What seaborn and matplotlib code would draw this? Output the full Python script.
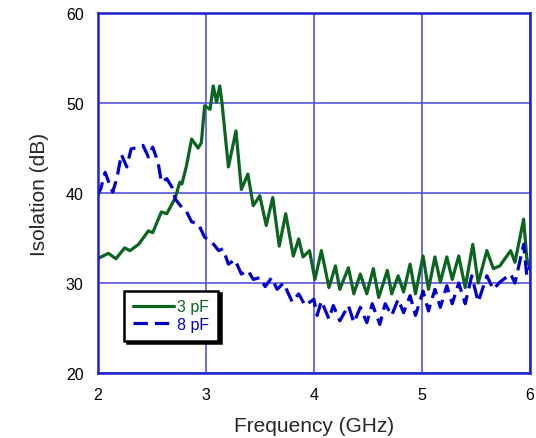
import matplotlib
matplotlib.use("Agg")
import matplotlib.pyplot as plt
import seaborn as sns
import pandas as pd

# values
freq_3pf = [2.00, 2.10, 2.17, 2.25, 2.30, 2.38, 2.47, 2.51, 2.59, 2.64, 2.72, 2.76,
            2.78, 2.82, 2.87, 2.93, 2.96, 2.99, 3.04, 3.07, 3.10, 3.13, 3.15, 3.21,
            3.28, 3.33, 3.39, 3.44, 3.50, 3.56, 3.62, 3.68, 3.74, 3.81, 3.86, 3.90,
            3.96, 4.01, 4.07, 4.14, 4.20, 4.24, 4.32, 4.37, 4.43, 4.49, 4.55, 4.60,
            4.68, 4.72, 4.78, 4.83, 4.89, 4.94, 5.01, 5.06, 5.12, 5.17, 5.23, 5.28,
            5.34, 5.40, 5.47, 5.52, 5.60, 5.66, 5.72, 5.82, 5.86, 5.94, 5.97, 6.00]
iso_3pf = [32.7, 33.3, 32.7, 33.9, 33.6, 34.3, 35.8, 35.6, 37.9, 37.7, 39.5, 41.2,
           41.0, 42.9, 46.0, 45.0, 45.6, 49.7, 49.3, 51.9, 50.1, 51.9, 50.1, 42.9,
           46.9, 40.4, 42.1, 38.6, 39.7, 36.4, 39.5, 34.1, 37.7, 33.0, 34.9, 32.9,
           33.6, 30.4, 33.6, 29.5, 31.9, 29.3, 31.7, 28.8, 31.0, 28.8, 31.6, 28.4,
           31.4, 28.8, 30.8, 29.0, 32.1, 28.8, 33.0, 29.3, 32.9, 30.1, 32.9, 30.4,
           33.0, 29.5, 34.3, 30.0, 33.6, 31.6, 31.9, 33.6, 32.3, 37.1, 32.7, 31.7]

freq_8pf = [2.00, 2.03, 2.07, 2.11, 2.14, 2.18, 2.22, 2.27, 2.31, 2.38, 2.42, 2.47,
            2.51, 2.56, 2.59, 2.64, 2.69, 2.72, 2.78, 2.82, 2.87, 2.93, 2.99, 3.06,
            3.12, 3.16, 3.21, 3.27, 3.33, 3.39, 3.44, 3.50, 3.55, 3.61, 3.66, 3.72,
            3.80, 3.86, 3.92, 4.00, 4.03, 4.07, 4.14, 4.18, 4.24, 4.32, 4.37, 4.43,
            4.49, 4.54, 4.61, 4.66, 4.72, 4.78, 4.83, 4.89, 4.94, 5.01, 5.06, 5.12,
            5.17, 5.23, 5.28, 5.34, 5.40, 5.46, 5.52, 5.60, 5.66, 5.72, 5.82, 5.86,
            5.94, 5.97, 6.00]
iso_8pf = [39.7, 40.5, 42.3, 41.0, 40.1, 41.7, 44.3, 42.9, 44.9, 45.1, 45.3, 44.0,
           45.1, 43.4, 41.2, 41.6, 40.6, 39.3, 38.4, 38.0, 36.8, 36.6, 35.1, 34.5,
           33.6, 33.8, 32.1, 32.6, 31.0, 31.4, 30.4, 30.6, 29.6, 30.6, 29.3, 30.0,
           27.9, 28.8, 27.5, 28.2, 26.4, 28.0, 26.0, 27.5, 25.8, 27.5, 25.6, 27.3,
           25.6, 27.7, 25.4, 27.7, 26.4, 28.2, 26.7, 28.6, 26.4, 29.1, 26.9, 29.3,
           27.3, 29.7, 27.7, 30.0, 27.7, 30.8, 27.9, 30.8, 29.3, 30.1, 31.0, 30.0,
           34.3, 30.8, 31.9]

x_ticks = [2, 3, 4, 5, 6]
y_ticks = [20, 30, 40, 50, 60]

df = pd.concat([
    pd.DataFrame({"freq": freq_3pf, "iso": iso_3pf, "cap": "3 pF"}),
    pd.DataFrame({"freq": freq_8pf, "iso": iso_8pf, "cap": "8 pF"}),
])

sns.set_style("white")
plt.rcParams["font.family"] = ["Liberation Sans", "DejaVu Sans"]

green = "#0b6420"
blue = "#0000cc"
grid_blue = "#5555dd"

fig = plt.figure(figsize=(5.36, 4.39), dpi=100)
ax = fig.add_axes([0.182, 0.148, 0.807, 0.820])

sns.lineplot(data=df[df.cap == "3 pF"], x="freq", y="iso", ax=ax, sort=False,
             estimator=None, color=green, lw=2.3, label="3 pF")
sns.lineplot(data=df[df.cap == "8 pF"], x="freq", y="iso", ax=ax, sort=False,
             estimator=None, color=blue, lw=2.3, label="8 pF",
             dashes=False)
ax.lines[-1].set_dashes([4.5, 2.2])

ax.set_xlim(2, 6)
ax.set_ylim(20, 60)
ax.set_xticks(x_ticks)
ax.set_yticks(y_ticks)
ax.grid(True, color=grid_blue, lw=1.2)
for s in ax.spines.values():
    s.set_color("#2020cc")
    s.set_linewidth(1.8)
ax.tick_params(direction="in", length=3, color="#2020cc", labelsize=11.5,
               labelcolor="black")
ax.tick_params(axis="x", pad=10)
ax.tick_params(axis="y", pad=10)
ax.set_xlabel("Frequency (GHz)", fontsize=15, labelpad=10)
ax.set_ylabel("Isolation (dB)", fontsize=15, labelpad=12)

leg = ax.legend(loc="lower left", bbox_to_anchor=(0.061, 0.09), frameon=True,
                fancybox=False, shadow={"color": "black", "alpha": 1},
                edgecolor="black", fontsize=11.5, labelcolor="linecolor",
                handlelength=2.6, handletextpad=0.2, borderpad=0.55,
                labelspacing=0.15, borderaxespad=0)
leg.get_frame().set_linewidth(1.8)

fig.savefig("out.png", dpi=100)
